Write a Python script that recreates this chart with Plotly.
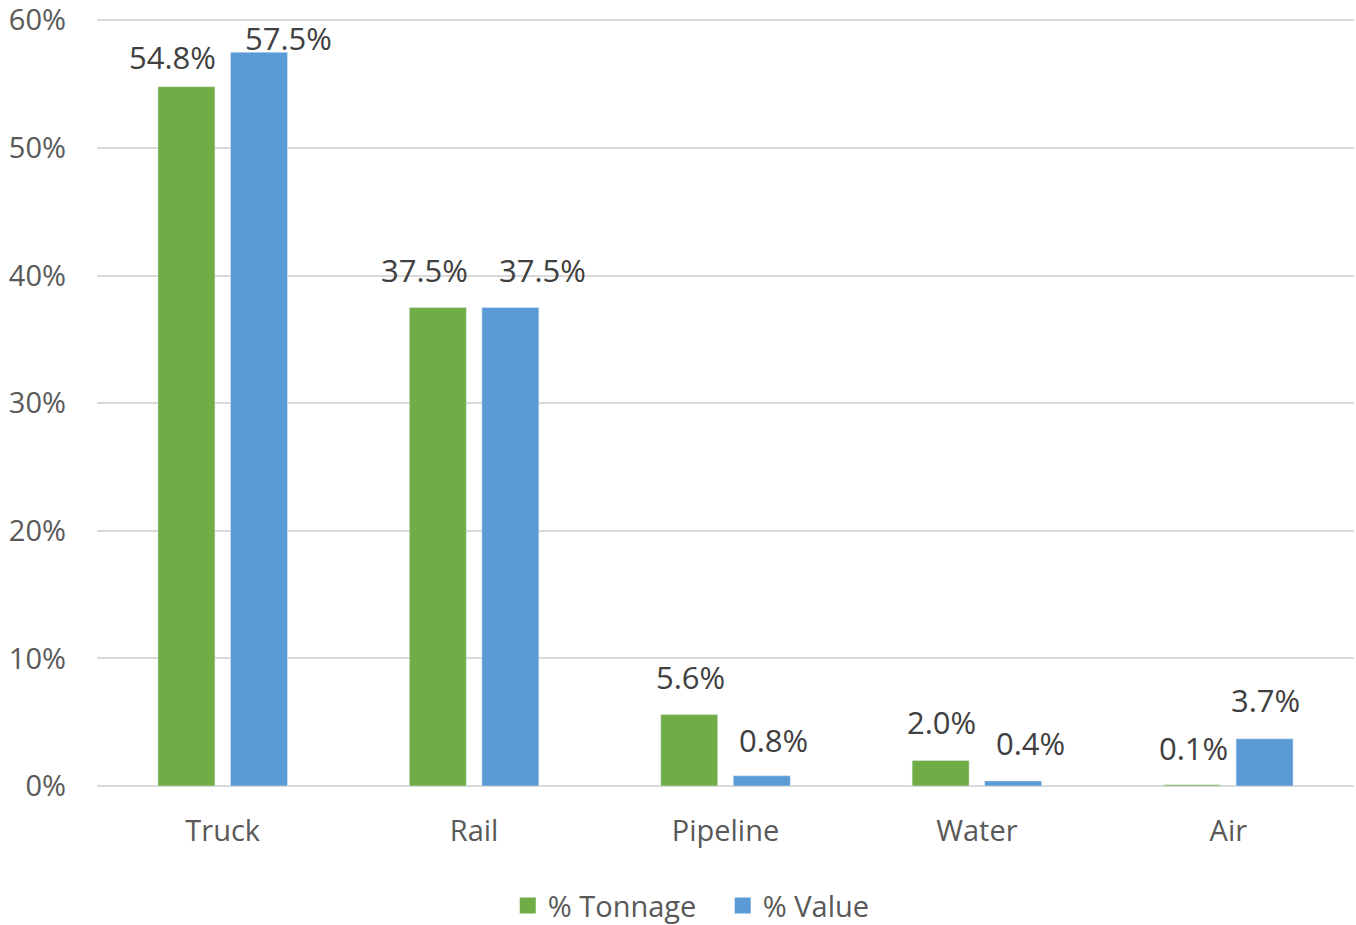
import plotly.graph_objects as go

categories = ["Truck", "Rail", "Pipeline", "Water", "Air"]
tonnage = [54.8, 37.5, 5.6, 2.0, 0.1]
value = [57.5, 37.5, 0.8, 0.4, 3.7]
series_names = ["% Tonnage", "% Value"]
tick_vals = [0, 10, 20, 30, 40, 50, 60]
tick_text = ["0%", "10%", "20%", "30%", "40%", "50%", "60%"]

# label placement offsets (pixels) relative to category centre / bar top
tonnage_label_dx = [-50, -50, -35, -35, -35]
tonnage_label_dy = [30, 37, 38, 38, 37]
value_label_dx = [66, 68, 48, 54, 37]
value_label_dy = [14, 37, 36, 38, 39]

GREEN = "#70AD47"
BLUE = "#5B9BD5"
FONT = "'Open Sans', Lato, sans-serif"
TXT = "#595959"
LBL = "#404040"

fig = go.Figure()
fig.add_trace(go.Bar(x=categories, y=tonnage, name=series_names[0],
                     marker_color=GREEN, showlegend=False))
fig.add_trace(go.Bar(x=categories, y=value, name=series_names[1],
                     marker_color=BLUE, showlegend=False))
# legend entries with larger square swatches
for nm, col in zip(series_names, (GREEN, BLUE)):
    fig.add_trace(go.Scatter(x=[None], y=[None], mode="markers", name=nm,
                             marker=dict(symbol="square", size=20, color=col)))

annotations = []
for series, dxs, dys in ((tonnage, tonnage_label_dx, tonnage_label_dy),
                         (value, value_label_dx, value_label_dy)):
    for c, v, dx, dy in zip(categories, series, dxs, dys):
        annotations.append(dict(x=c, y=v, xref="x", yref="y", text=f"{v:.1f}%",
                                showarrow=False, xshift=dx, yshift=dy,
                                yanchor="middle", xanchor="center",
                                font=dict(family=FONT, size=31, color=LBL)))

fig.update_layout(
    width=1356, height=925,
    margin=dict(l=97, r=2, t=19, b=139),
    paper_bgcolor="white", plot_bgcolor="white",
    barmode="group", bargap=0.423, bargroupgap=0.214,
    font=dict(family=FONT, size=29, color=TXT),
    annotations=annotations,
    legend=dict(orientation="h", xref="container", yref="container",
                x=0.533, xanchor="center", y=0.021, yanchor="middle",
                entrywidth=170, entrywidthmode="pixels",
                font=dict(family=FONT, size=29, color=TXT)),
    showlegend=True,
)
fig.update_yaxes(range=[0, 60.1], tickvals=tick_vals, ticktext=tick_text,
                 showgrid=True, gridcolor="#D9D9D9", gridwidth=2,
                 zeroline=True, zerolinecolor="#D9D9D9", zerolinewidth=2,
                 ticklabelstandoff=30, automargin=False,
                 ticklabeloverflow="allow",
                 tickfont=dict(family=FONT, size=29, color=TXT))
fig.update_xaxes(showline=False, ticks="", automargin=False,
                 tickfont=dict(family=FONT, size=29, color=TXT),
                 ticklabelstandoff=25)

fig.write_html("out.html", config={"displayModeBar": False},
               post_script="document.body.style.margin='0';document.body.style.overflow='hidden';")
